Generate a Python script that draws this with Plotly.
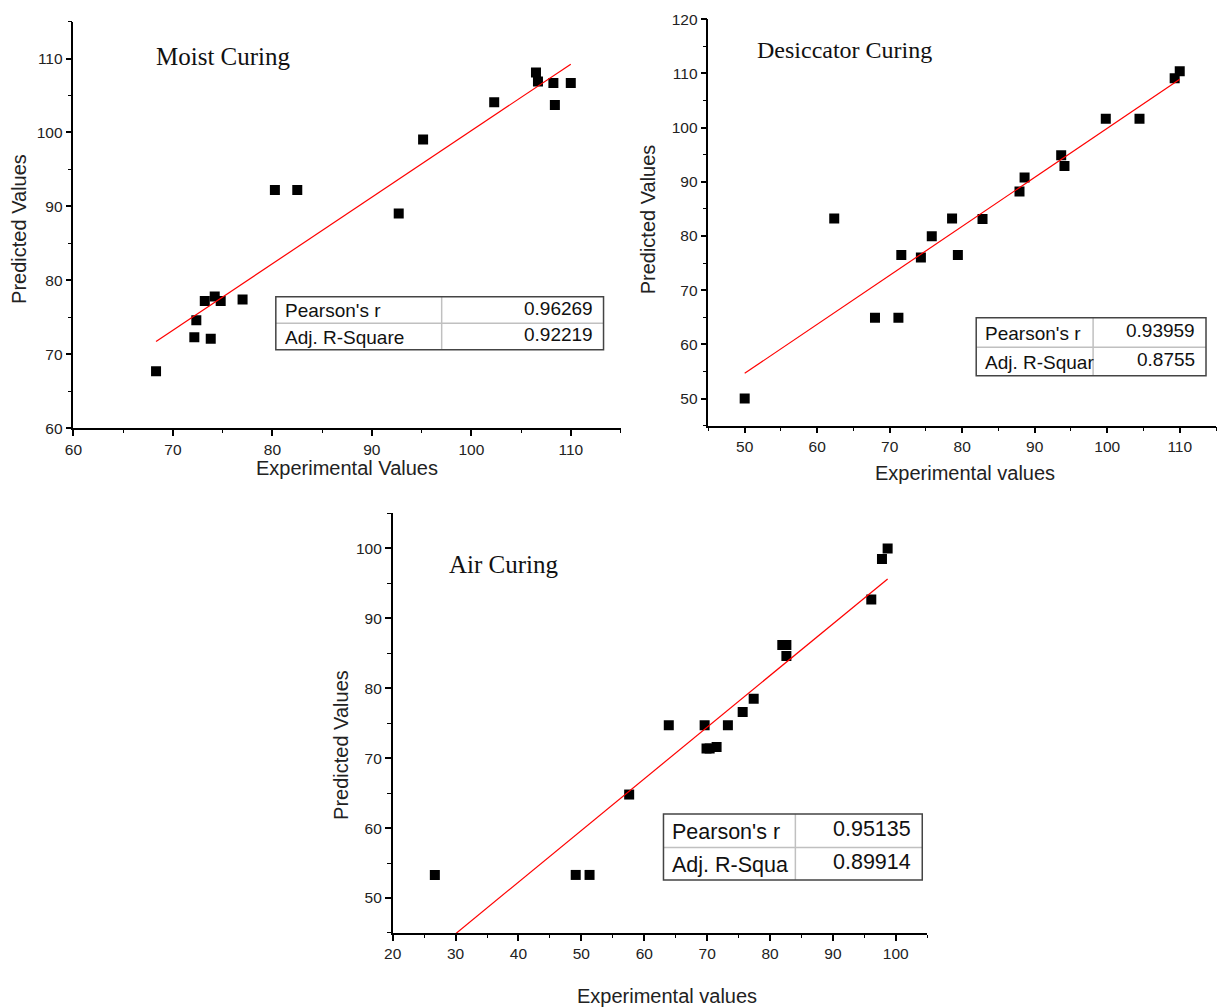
import numpy as np
import plotly.graph_objects as go

# figure size; the page shows it with a small offset and slight scaling,
# so target picture pixels are mapped back to figure pixels below
W, H = 1218, 1007
OX, OY = 7.95, 7.87
SX, SY = 1218 / 1226, 1007 / 1023

# ---------------- data ----------------
moist_exp = [68.3, 72.15, 72.35, 73.8, 73.2, 74.2, 74.8, 77.0, 80.25, 82.5,
             92.7, 95.15, 102.3, 106.5, 106.7, 108.25, 108.4, 110.0]
moist_pred = [67.7, 72.3, 74.6, 72.1, 77.2, 77.8, 77.2, 77.4, 92.2, 92.2,
              89.05, 99.05, 104.1, 108.1, 106.9, 106.7, 103.7, 106.7]
moist_stats = ["0.96269", "0.92219"]
moist_labels = ["Pearson's r", "Adj. R-Square"]

desic_exp = [50.0, 62.35, 67.97, 71.2, 71.6, 74.3, 75.8, 78.6, 79.4, 82.8,
             87.9, 88.6, 93.65, 94.1, 99.8, 104.45, 109.3, 110.0]
desic_pred = [50.0, 83.2, 64.9, 64.9, 76.5, 76.0, 79.95, 83.2, 76.5, 83.1,
              88.2, 90.8, 94.9, 92.9, 101.6, 101.6, 109.1, 110.4]
desic_stats = ["0.93959", "0.8755"]
desic_labels = ["Pearson's r", "Adj. R-Squar"]

air_exp = [26.7, 49.1, 51.3, 57.6, 63.9, 69.6, 69.9, 70.4, 71.5, 73.3,
           75.65, 77.4, 81.95, 82.6, 82.6, 96.1, 97.8, 98.7]
air_pred = [53.3, 53.3, 53.3, 64.8, 74.7, 74.7, 71.4, 71.4, 71.6, 74.7,
            76.6, 78.5, 86.2, 86.2, 84.6, 92.7, 98.5, 100.0]
air_stats = ["0.95135", "0.89914"]
air_labels = ["Pearson's r", "Adj. R-Squa"]

titles = ["Moist Curing", "Desiccator Curing", "Air Curing"]
xtitles = ["Experimental Values", "Experimental values", "Experimental values"]
ytitle = "Predicted Values"


def px(x):
    return ((x - OX) / SX) / W


def py(y):
    return 1 - ((y - OY) / SY) / H


fig = go.Figure()

panels = [
    dict(x=moist_exp, y=moist_pred, stats=moist_stats, labels=moist_labels,
         dom_x=(72.5, 620), dom_y=(427.5, 20.5), xr=[60, 115], yr=[60, 115],
         xt=(346, 467), yt=(18, 228), title_pos=(153, 55), title_size=25,
         table=(275, 603, 296, 349, 441, 322.5), tfs=19),
    dict(x=desic_exp, y=desic_pred, stats=desic_stats, labels=desic_labels,
         dom_x=(708, 1216), dom_y=(425, 18), xr=[45, 115], yr=[45, 120],
         xt=(965, 472), yt=(647, 218), title_pos=(755, 49), title_size=24,
         table=(976, 1206, 317, 375, 1093, 346.5), tfs=19),
    dict(x=air_exp, y=air_pred, stats=air_stats, labels=air_labels,
         dom_x=(392, 927), dom_y=(933, 513), xr=[20, 105], yr=[45, 105],
         xt=(667, 996), yt=(340, 745), title_pos=(446, 564), title_size=25,
         table=(663, 922, 814, 880, 795, 847.5), tfs=21.5),
]

shapes = []
annotations = []
axis_font = dict(family="Liberation Sans, Arial", size=15.5, color="#222")

for i, p in enumerate(panels):
    n = "" if i == 0 else str(i + 1)
    xa, ya = "x" + n, "y" + n
    fig.add_trace(go.Scatter(x=p["x"], y=p["y"], mode="markers",
                             marker=dict(symbol="square", size=10, color="black"),
                             xaxis=xa, yaxis=ya, showlegend=False))
    slope, icpt = np.polyfit(p["x"], p["y"], 1)
    lx = [min(p["x"]), max(p["x"])]
    ly = [slope * v + icpt for v in lx]
    fig.add_trace(go.Scatter(x=lx, y=ly, mode="lines",
                             line=dict(color="red", width=1.2),
                             xaxis=xa, yaxis=ya, showlegend=False))

    common = dict(showgrid=False, zeroline=False, showline=True, linecolor="black",
                  linewidth=1.6, ticks="outside", ticklen=6, tickwidth=1.6,
                  tickcolor="black", dtick=10, tickfont=axis_font,
                  minor=dict(ticks="outside", ticklen=3.5, tickwidth=1.3,
                             tickcolor="black", dtick=5))
    fig.update_layout(**{
        "xaxis" + n: dict(domain=[px(p["dom_x"][0]), min(1.0, px(p["dom_x"][1]))],
                          range=p["xr"], anchor=ya, tick0=0, **common),
        "yaxis" + n: dict(domain=[py(p["dom_y"][0]), py(p["dom_y"][1])],
                          range=p["yr"], anchor=xa, tick0=0, **common),
    })

    # axis titles
    annotations.append(dict(x=px(p["xt"][0]), y=py(p["xt"][1]), xref="paper", yref="paper",
                            text=xtitles[i], showarrow=False, xanchor="center", yanchor="middle",
                            font=dict(family="Liberation Sans, Arial", size=20, color="#222")))
    annotations.append(dict(x=px(p["yt"][0]), y=py(p["yt"][1]), xref="paper", yref="paper",
                            text=ytitle, showarrow=False, textangle=-90,
                            xanchor="center", yanchor="middle",
                            font=dict(family="Liberation Sans, Arial", size=20, color="#222")))
    # panel label
    annotations.append(dict(x=px(p["title_pos"][0]), y=py(p["title_pos"][1]), xref="paper", yref="paper",
                            text=titles[i], showarrow=False, xanchor="left", yanchor="middle",
                            font=dict(family="Liberation Serif, Times New Roman",
                                      size=p["title_size"], color="#111")))

    # stats table
    l, r, t, b, vx, hy = p["table"]
    shapes.append(dict(type="line", xref="paper", yref="paper", x0=px(vx), x1=px(vx),
                       y0=py(t), y1=py(b), line=dict(color="#c0c0c0", width=1.5)))
    shapes.append(dict(type="line", xref="paper", yref="paper", x0=px(l), x1=px(r),
                       y0=py(hy), y1=py(hy), line=dict(color="#c0c0c0", width=1.5)))
    shapes.append(dict(type="rect", xref="paper", yref="paper", x0=px(l), x1=px(r),
                       y0=py(b), y1=py(t), line=dict(color="#444", width=1.5)))
    rows = [(t + hy) / 2, (hy + b) / 2]
    for k in range(2):
        annotations.append(dict(x=px(l + 7), y=py(rows[k] + 1), xref="paper", yref="paper",
                                text=p["labels"][k], showarrow=False, xanchor="left",
                                yanchor="middle",
                                font=dict(family="Liberation Sans, Arial", size=p["tfs"], color="#111")))
        annotations.append(dict(x=px(r - 9), y=py(rows[k] - 2), xref="paper", yref="paper",
                                text=p["stats"][k], showarrow=False, xanchor="right",
                                yanchor="middle",
                                font=dict(family="Liberation Sans, Arial", size=p["tfs"], color="#111")))

fig.update_layout(width=W, height=H, margin=dict(l=0, r=0, t=0, b=0),
                  paper_bgcolor="white", plot_bgcolor="white",
                  shapes=shapes, annotations=annotations, showlegend=False)

fig.write_html("out.html")
